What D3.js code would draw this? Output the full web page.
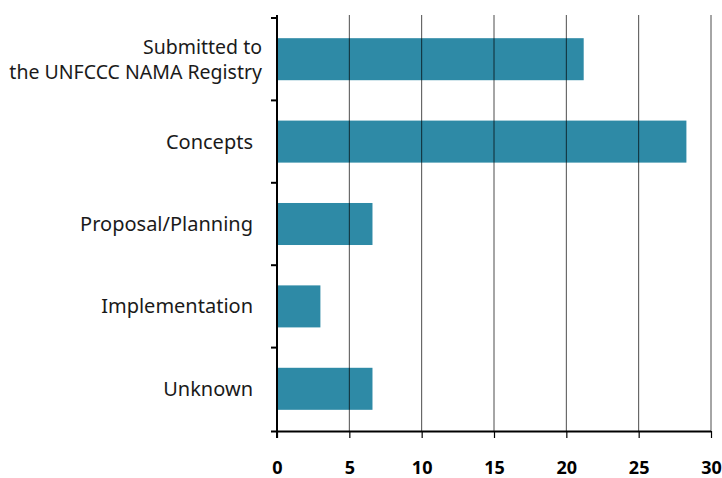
<!DOCTYPE html>
<html>
<head>
<meta charset="utf-8">
<script src="https://d3js.org/d3.v7.min.js"></script>
<style>
  body { margin: 0; background: #fff; }
  svg { display: block; }
</style>
</head>
<body>
<div id="chart"></div>
<script>
// datos del gráfico
const categories = [
  ["Submitted to", "the UNFCCC NAMA Registry"],
  ["Concepts"],
  ["Proposal/Planning"],
  ["Implementation"],
  ["Unknown"]
];
const values = [21.2, 28.3, 6.6, 3.0, 6.6];
const xTicks = [0, 5, 10, 15, 20, 25, 30];

const width = 722, height = 478;
const margin = { top: 18, right: 11, bottom: 47, left: 277 };

const svg = d3.select("#chart")
  .append("svg")
  .attr("width", width)
  .attr("height", height);

const x = d3.scaleLinear()
  .domain([0, 30])
  .range([margin.left, width - margin.right]);

const y = d3.scaleBand()
  .domain(d3.range(categories.length))
  .range([margin.top, height - margin.bottom - 1])
  .paddingInner(0.49)
  .paddingOuter(0.245);

// barras
svg.selectAll("rect.bar")
  .data(values)
  .enter()
  .append("rect")
  .attr("class", "bar")
  .attr("x", x(0))
  .attr("y", (d, i) => y(i))
  .attr("width", d => x(d) - x(0))
  .attr("height", y.bandwidth())
  .attr("fill", "#2e8aa6");

// líneas verticales de la cuadrícula (encima de las barras)
const axisY = height - margin.bottom;
svg.selectAll("line.grid")
  .data(xTicks.slice(1))
  .enter()
  .append("line")
  .attr("class", "grid")
  .attr("x1", d => x(d))
  .attr("x2", d => x(d))
  .attr("y1", 15)
  .attr("y2", axisY)
  .attr("stroke", "#000")
  .attr("stroke-opacity", 0.7)
  .attr("stroke-width", 1);

// eje x
const xAxis = svg.append("g")
  .attr("transform", `translate(0,${axisY})`)
  .call(d3.axisBottom(x).tickValues(xTicks).tickSize(7).tickSizeOuter(0).tickPadding(23.5));
xAxis.select(".domain").attr("stroke-width", 2).attr("d", `M${x(0) - 6},0.5H${x(30)}`);
xAxis.selectAll(".tick line").attr("stroke-width", 1.2);
xAxis.selectAll("text")
  .attr("font-family", "'Noto Sans', sans-serif")
  .attr("font-weight", "bold")
  .attr("font-size", 18)
  .attr("fill", "#000");

// eje y
svg.append("line")
  .attr("x1", x(0)).attr("x2", x(0))
  .attr("y1", 15).attr("y2", axisY + 7)
  .attr("stroke", "#000")
  .attr("stroke-width", 2);

const bounds = d3.range(categories.length).map(i => y(i) - y.step() * y.paddingInner() / 2);
svg.selectAll("line.ytick")
  .data(bounds)
  .enter()
  .append("line")
  .attr("class", "ytick")
  .attr("x1", x(0) - 6).attr("x2", x(0))
  .attr("y1", d => d).attr("y2", d => d)
  .attr("stroke", "#000")
  .attr("stroke-width", 2);

// etiquetas de categoría
const labels = svg.selectAll("text.cat")
  .data(categories)
  .enter()
  .append("text")
  .attr("class", "cat")
  .attr("text-anchor", "end")
  .attr("font-family", "'Noto Sans', sans-serif")
  .attr("font-size", d => d.length > 1 ? 19.5 : 20)
  .attr("fill", "#1a1a1a")
  .attr("x", d => d.length > 1 ? 262 : 253)
  .attr("y", (d, i) => y(i) + y.bandwidth() / 2 + 7 - (d.length - 1) * 12.5);

labels.selectAll("tspan")
  .data(d => d)
  .enter()
  .append("tspan")
  .attr("x", function() { return this.parentNode.getAttribute("x"); })
  .attr("dy", (d, i) => i === 0 ? 0 : 25)
  .text(d => d);
</script>
</body>
</html>
